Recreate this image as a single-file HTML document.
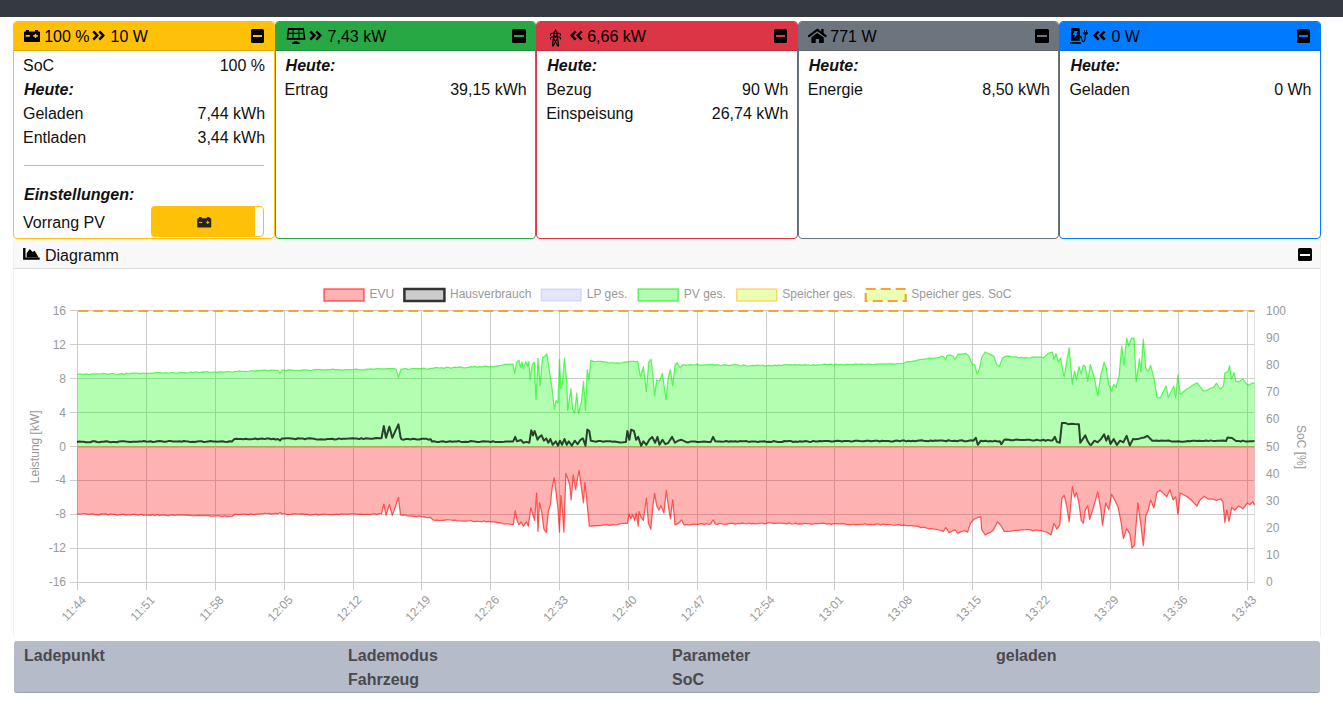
<!DOCTYPE html>
<html><head><meta charset="utf-8"><title>openWB</title>
<style>
*{box-sizing:border-box;margin:0;padding:0}
html,body{width:1343px;height:717px;overflow:hidden;background:#fff}
body{font-family:"Liberation Sans",Arial,sans-serif;font-size:16px;line-height:24px;color:#111;position:relative}
.topbar{position:absolute;left:0;top:0;width:1343px;height:17px;background:#343a40}
.card{position:absolute;top:21px;width:261.6px;height:218px;border:1px solid;border-radius:4px;background:#fff;overflow:hidden}
.hd{position:absolute;left:0;top:0;right:0;height:29px;border-bottom:1px solid rgba(0,0,0,.13)}
.hd .t{position:absolute;top:2.5px;white-space:nowrap;color:#000}
.row{position:absolute;left:9px;right:10px;height:24px;white-space:nowrap}
.row.b{left:10px}
.row .r{position:absolute;right:-1.5px;top:0}
.b{font-weight:bold;font-style:italic}
.ic{position:absolute}
.min{position:absolute;top:7px;right:9.5px;width:13.5px;height:13.7px;background:#000;border-radius:1.6px}
.min:after{content:"";position:absolute;left:2px;top:6px;width:9.5px;height:2.2px;background:var(--c)}
.diag{position:absolute;left:13px;top:239px;width:1308px;height:399px;border:1px solid #f1f1f1;border-bottom:0;border-radius:4px;background:#fff}
.diag .dh{position:absolute;left:0;top:0;right:0;height:29px;background:#f8f8f9;border-bottom:1px solid #dcdcdc;border-radius:3px 3px 0 0}
.chart{position:absolute;left:0;top:0}
.tbl{position:absolute;left:14px;top:640.5px;width:1306px;height:52px;background:#b6bbca;border-radius:3px;border-bottom:1px solid #9aa0b0;font-weight:bold;color:#4a4a4a}
.tbl div{position:absolute;white-space:nowrap}
</style></head><body>
<div class="topbar"></div>

<!-- Speicher -->
<div class="card" style="left:13px;border-color:#ffc107">
 <div class="hd" style="background:#ffc107">
  <svg class="ic" style="left:10px;top:8px" width="16" height="12" viewBox="0 0 16 12"><path d="M2 0h3v1.5h6V0h3v1.5h1.2c.5 0 .8.3.8.8v8.9c0 .5-.3.8-.8.8H.8c-.5 0-.8-.3-.8-.8V2.3c0-.5.3-.8.8-.8H2z" fill="#000"/><rect x="1.6" y="5" width="4.3" height="1.7" fill="#ffc107"/><rect x="9.2" y="5" width="4.6" height="1.7" fill="#ffc107"/><rect x="10.75" y="3.8" width="1.5" height="4.2" fill="#ffc107"/></svg>
  <span class="t" style="left:30.2px">100 %</span>
  <svg class="ic" style="left:77.8px;top:7.9px" width="13" height="11" viewBox="0 0 13 11"><path d="M1.3 1.3L5.3 5.5L1.3 9.7M7.3 1.3L11.3 5.5L7.3 9.7" fill="none" stroke="#000" stroke-width="2.5"/></svg>
  <span class="t" style="left:96.5px">10 W</span>
  <div class="min" style="--c:#ffc107"></div>
 </div>
 <div class="row" style="top:32px">SoC<span class="r">100 %</span></div>
 <div class="row b" style="top:56px">Heute:</div>
 <div class="row" style="top:80px">Geladen<span class="r">7,44 kWh</span></div>
 <div class="row" style="top:104px">Entladen<span class="r">3,44 kWh</span></div>
 <div style="position:absolute;left:10px;right:10px;top:143px;height:1px;background:#ffc107"></div>
 <div class="row b" style="top:161px">Einstellungen:</div>
 <div class="row" style="top:189px">Vorrang PV</div>
 <div style="position:absolute;left:137px;top:184px;width:103px;height:31px;background:#ffc107;border-radius:4px 0 0 4px"></div>
 <div style="position:absolute;left:240px;top:184px;width:10px;height:31px;border:1px solid #ffc107;border-radius:0 4px 4px 0;background:#fff"></div>
 <svg class="ic" style="left:183px;top:195px" width="14.5" height="10.5" viewBox="0 0 16 12"><path d="M2 0h3v1.5h6V0h3v1.5h1.2c.5 0 .8.3.8.8v8.9c0 .5-.3.8-.8.8H.8c-.5 0-.8-.3-.8-.8V2.3c0-.5.3-.8.8-.8H2z" fill="#212529"/><rect x="2" y="5.6" width="3.6" height="1.1" fill="#ffc107"/><rect x="10.2" y="5.6" width="3.6" height="1.1" fill="#ffc107"/><rect x="11.45" y="4.3" width="1.1" height="3.6" fill="#ffc107"/></svg>
</div>

<!-- PV -->
<div class="card" style="left:274.6px;border-color:#28a745">
 <div class="hd" style="background:#28a745">
  <svg class="ic" style="left:10px;top:6px" width="21" height="17" viewBox="0 0 21 17"><path fill="#000" fill-rule="evenodd" d="M1.95 .1H17.9L19.4 11.7H.6ZM3.2 2L2.9 4.8H6.5V2ZM7.5 2V4.8H12.5V2ZM13.5 2V4.8H17L16.65 2ZM2.76 5.9L2.3 9.9H6.5V5.9ZM7.5 5.9V9.9H12.5V5.9ZM13.5 5.9V9.9H17.68L17.16 5.9Z"/><path fill="#000" d="M8.2 13.2H11.2L11.9 14.2H13.2Q13.7 14.2 13.7 14.7V15.4Q13.7 15.9 13.2 15.9H6.6Q6.1 15.9 6.1 15.4V14.7Q6.1 14.2 6.6 14.2H7.5Z"/></svg>
  <svg class="ic" style="left:33.5px;top:7.9px" width="13" height="11" viewBox="0 0 13 11"><path d="M1.3 1.3L5.3 5.5L1.3 9.7M7.3 1.3L11.3 5.5L7.3 9.7" fill="none" stroke="#000" stroke-width="2.5"/></svg>
  <span class="t" style="left:52px">7,43 kW</span>
  <div class="min" style="--c:#28a745"></div>
 </div>
 <div class="row b" style="top:32px">Heute:</div>
 <div class="row" style="top:56px">Ertrag<span class="r">39,15 kWh</span></div>
</div>

<!-- EVU -->
<div class="card" style="left:536.2px;border-color:#dc3545">
 <div class="hd" style="background:#dc3545">
  <svg class="ic" style="left:10.2px;top:5px" width="17" height="21" viewBox="0 0 17 21"><path d="M8.5 1.8L10.1 4.7H6.9Z" fill="#000"/><g fill="none" stroke="#000" stroke-width="1.15"><path d="M3.6 8.8V7.3Q3.6 6.2 4.8 6.2H12.2Q13.4 6.2 13.4 7.3V8.8M3.6 12.6V11.1Q3.6 10 4.8 10H12.2Q13.4 10 13.4 11.1V12.6"/><path d="M7.1 4.6L5.4 19.5M9.9 4.6L11.6 19.5M6.6 11.2L10.9 19.2M10.4 11.2L6.1 19.2M6.7 8L8.5 10L10.3 8"/></g></svg>
  <svg class="ic" style="left:33px;top:7.9px" width="13" height="11" viewBox="0 0 13 11"><path d="M5.7 1.3L1.7 5.5L5.7 9.7M11.7 1.3L7.7 5.5L11.7 9.7" fill="none" stroke="#000" stroke-width="2.5"/></svg>
  <span class="t" style="left:50px">6,66 kW</span>
  <div class="min" style="--c:#dc3545"></div>
 </div>
 <div class="row b" style="top:32px">Heute:</div>
 <div class="row" style="top:56px">Bezug<span class="r">90 Wh</span></div>
 <div class="row" style="top:80px">Einspeisung<span class="r">26,74 kWh</span></div>
</div>

<!-- Haus -->
<div class="card" style="left:797.8px;border-color:#6c757d">
 <div class="hd" style="background:#6c757d">
  <svg class="ic" style="left:6.3px;top:2px" width="24" height="24" viewBox="0 0 24 24"><path d="M3.9 12.1L12.3 5.8L20.7 12.1" fill="none" stroke="#000" stroke-width="2.1" stroke-linecap="round" stroke-linejoin="miter"/><path d="M16.3 5H18.6V9.6H16.3Z" fill="#000"/><path d="M12.3 9.1L6.3 13.4V18.9H10.7V15H14.1V18.9H18.8V13.4Z" fill="#000"/></svg>
  <span class="t" style="left:31.5px">771 W</span>
  <div class="min" style="--c:#6c757d"></div>
 </div>
 <div class="row b" style="top:32px">Heute:</div>
 <div class="row" style="top:56px">Energie<span class="r">8,50 kWh</span></div>
</div>

<!-- LP -->
<div class="card" style="left:1059.4px;border-color:#007bff">
 <div class="hd" style="background:#007bff">
  <svg class="ic" style="left:5.8px;top:2px" width="24" height="24" viewBox="0 0 24 24"><path d="M5 5.6Q5 4.1 6.5 4.1H12.3Q13.8 4.1 13.8 5.6V16.8H5Z" fill="#000"/><path d="M8.4 7H11.8L10.4 10H11.7L7.8 14L8.9 11H6.8Z" fill="#007bff"/><rect x="3.9" y="18.2" width="10.9" height="1.6" fill="#000"/><path d="M13.8 12.3C15.3 12.3 15.6 13.5 15.8 15.4C16 17.4 17.2 17.9 18 17.3C18.9 16.6 19.3 15 19.3 10.5" fill="none" stroke="#000" stroke-width="1.15"/><path d="M17 8.2H21.8V9.2Q21.8 10.9 19.4 10.9T17 9.2Z" fill="#000"/><rect x="18" y="6" width="0.85" height="2.4" fill="#000"/><rect x="20.1" y="6" width="0.85" height="2.4" fill="#000"/></svg>
  <svg class="ic" style="left:33px;top:7.9px" width="13" height="11" viewBox="0 0 13 11"><path d="M5.7 1.3L1.7 5.5L5.7 9.7M11.7 1.3L7.7 5.5L11.7 9.7" fill="none" stroke="#000" stroke-width="2.5"/></svg>
  <span class="t" style="left:51px">0 W</span>
  <div class="min" style="--c:#007bff"></div>
 </div>
 <div class="row b" style="top:32px">Heute:</div>
 <div class="row" style="top:56px">Geladen<span class="r">0 Wh</span></div>
</div>

<!-- Diagramm -->
<div class="diag">
 <div class="dh">
  <svg class="ic" style="left:9px;top:8px" width="17" height="13" viewBox="0 0 17 13"><path d="M.1 0H2.5V9.4H16.7V11.8H.1Z" fill="#000"/><path d="M3.7 9.4V5.2L6.8 1.1L9.6 3.9L11.6 2.7L15.6 9.4Z" fill="#000"/></svg>
  <span style="position:absolute;left:31px;top:3.5px">Diagramm</span>
  <div class="min" style="--c:#fff;top:7.5px;right:8.5px"></div>
 </div>
</div>
<svg class="chart" width="1343" height="717" viewBox="0 0 1343 717">
<path d="M70 310.5H1254.4 M70 344.5H1254.4 M70 378.5H1254.4 M70 412.5H1254.4 M70 446.5H1254.4 M70 480.5H1254.4 M70 514.5H1254.4 M70 548.5H1254.4 M70 582.5H1254.4 M77.5 311V590.5 M146.5 311V590.5 M215.5 311V590.5 M284.5 311V590.5 M353.5 311V590.5 M421.5 311V590.5 M490.5 311V590.5 M559.5 311V590.5 M628.5 311V590.5 M697.5 311V590.5 M766.5 311V590.5 M834.5 311V590.5 M903.5 311V590.5 M972.5 311V590.5 M1041.5 311V590.5 M1110.5 311V590.5 M1178.5 311V590.5 M1247.5 311V590.5" stroke="#cdcdcd" stroke-width="1" fill="none"/>
<path d="M1254.5 311V583" stroke="#e2e2e2" stroke-width="1"/>
<path d="M77,446.5 L77,374.5 79.2,374.2 81.5,374 83.7,374.6 86,373.8 88.2,374.3 90.5,374.1 92.7,373.7 95,374.2 97.2,373.6 99.5,374 101.7,373.6 104,373.5 106.2,373.9 108.5,374.4 110.7,373.5 113,373.5 115.2,374 117.5,374.3 119.7,373.9 122,373.6 124.2,374.3 126.5,373.1 128.7,374 131,373.3 133.2,373.1 135.5,373 137.7,373.2 140,373.8 142.2,373 144.5,373.4 146.7,373.3 148.9,373.4 151.1,373.1 153.4,373.2 155.6,372.6 157.8,372.5 160,372.7 162.2,373.2 164.5,372.9 166.7,372.7 168.9,373 171.1,372.7 173.3,372.5 175.6,373.1 177.8,372.9 180,372.3 182.2,372.7 184.4,372.6 186.6,372.9 188.9,372.7 191.1,372.1 193.3,372.9 195.5,371.8 197.7,372.2 200,372.5 202.2,371.8 204.4,372.1 206.6,371.5 208.8,372.2 211.1,372.3 213.3,372 215.5,371.9 217.7,372.3 219.9,371.6 222.1,372 224.3,371.8 226.5,371.7 228.7,371.5 230.9,371.9 233.1,372 235.3,371.4 237.5,371.5 239.7,370.8 241.9,371.5 244.1,371.4 246.4,371.7 248.6,371.5 250.8,370.8 253,370.8 255.2,371.1 257.4,370.3 259.6,370.7 261.8,370.3 264,370.2 266.2,370.1 268.4,370.9 270.6,370.1 272.8,370.2 275,370.4 278,370.3 280,373.3 282,370.2 284.3,370.1 286.6,370.6 288.9,369.6 291.1,370.1 293.4,370.2 295.7,370.5 298,370.4 300.3,370.5 302.6,369.8 304.9,369.9 307.1,369.8 309.4,370.4 311.7,370.5 314,369.5 316.3,369.5 318.6,369.6 320.9,369.6 323.1,369.8 325.4,369.9 327.7,369.5 330,369.8 332.4,369.2 334.7,369.6 337.1,369.6 339.5,369.8 341.9,370.2 344.2,369.8 346.6,369.6 349,369.7 351.3,369.7 353.7,369.5 355.9,368.9 358.2,369.9 360.4,369.8 362.6,369.8 364.8,369.7 367.1,369.2 369.3,369.2 371.5,368.8 373.7,369.4 376,368.7 378.2,368.7 380.4,368.8 382.6,368.8 384.9,368.9 387.1,368.6 389.3,368.5 391.5,368.6 393.8,368.5 396,369 398.5,377.4 401,369 403.3,368.8 405.6,368.4 407.9,369.3 410.2,369 412.4,368.4 414.7,368.5 417,368.6 419.3,368.6 421.6,368.7 423.8,368.2 426.1,369 428.3,369.1 430.5,368.3 432.7,368.3 435,367.7 437.2,367.7 439.4,367.9 441.7,367.7 443.9,368.3 446.1,367.4 448.3,367.2 450.6,368.2 452.8,367.7 455,367.1 457.3,367.5 459.5,366.8 461.7,367.3 464,367.8 466.2,367.6 468.4,367.3 470.6,366.7 472.9,366.8 475.1,366.4 477.3,367.1 479.6,366.7 481.8,366.9 484,366.3 486.2,366.1 488.5,366.8 490.7,366.3 493.1,366.6 495.5,366.2 497.9,365.8 500.2,365.5 502.6,365.2 505,364.3 507.4,364.3 510.2,364.2 513,364 514.7,373.3 516.5,362.5 519,360.2 520.5,367.5 522,362 523.4,368.7 525.8,361.6 527.5,366 528.7,361.6 530.2,379.8 532.2,365 534.3,362.2 536,399.7 538,358.4 540.1,385.7 542.5,357.8 544.5,356.4 546.9,354 549.2,369.5 552.1,388.6 554.2,409 556.2,400.3 558,403 559.5,359.3 560.9,388.6 562.4,383 564.4,358.4 566.8,382.7 567.7,410.5 570.9,388.6 572.6,409 574.7,412.6 576.7,393 578.5,413.5 581.4,401.8 583.5,381.3 585.5,410.5 587.3,369.5 588.8,380 590.8,360.2 593.7,361.6 596.1,361.5 598.4,361.3 600.8,361.4 603.1,361.8 605.5,361.9 607.8,362.6 610.2,363 612.5,362.5 614.9,363.2 617.2,362.8 619.5,363.2 621.8,363 624,362.1 626.3,361.8 628.6,361.6 630.9,361.4 633.1,361.3 635.4,361.6 637.7,361.3 640.5,376.9 643.4,366.6 646.4,391.5 648.7,362.2 651,359.3 652.8,374 654.6,395.9 656.6,380 659.5,381 662.5,373.3 664,385 666,399.4 668.3,377 670.4,369.5 672.7,385.7 675,365 677.1,362.8 680,368 683,364.6 685.3,365.1 687.5,365 689.8,364.6 692.1,364.8 694.4,365 696.6,364.1 698.9,364.8 701.2,365.1 703.5,364.9 705.7,364.9 708,364.6 710.3,364.6 712.5,364.3 714.8,365.1 717,364.6 719.3,365.2 721.6,365.5 723.8,364.8 726.1,364.9 728.3,365.6 730.6,365.3 732.9,364.7 735.1,364.7 737.4,364.8 739.7,365.8 741.9,365.7 744.2,364.9 746.4,365.8 748.7,366 751,365.7 753.2,365.4 755.5,365.7 757.7,365.2 760,365.7 762.4,365 764.8,366.1 767.2,365.7 769.6,365.4 772.1,365.8 774.5,365.2 776.9,365.6 779.3,365.1 781.6,365.5 783.8,364.7 786.1,364.7 788.3,364.8 790.6,364.7 792.8,365.1 795.1,364.7 797.3,364.8 799.6,364.5 801.8,365.4 804.1,364.7 806.3,364.8 808.6,365 810.9,365.3 813.1,364.7 815.4,365.3 817.6,364.8 819.9,364.8 822.1,364.8 824.4,364.1 826.6,364.6 828.9,364.3 831.1,364.1 833.4,365 835.6,364.2 837.9,364.6 840.2,364.5 842.4,364.8 844.7,364.6 846.9,364.3 849.2,364.4 851.4,364.5 853.7,364.7 855.9,363.9 858.2,364.4 860.4,364 862.7,364 864.9,364.5 867.2,364.2 869.5,364.2 871.7,364.4 874,364.5 876.2,363.9 878.5,364.1 880.7,363.9 883,363.9 885.2,364.1 887.5,363.8 889.7,363.8 892,363.7 894.2,364.3 896.5,363.7 899,363.5 901.5,363.3 904,363 906.5,361.8 909,361.7 911.5,361.7 914,360.8 916.2,360.9 918.4,359.8 920.6,359.4 922.8,359.5 925,358.8 927.2,358.7 929.4,358.2 931.6,358.4 933.9,358.2 936.3,357.9 938.6,357.7 941,356.4 943.3,356.4 945.7,359.9 947,355.5 949.2,354.9 953,356 955,359.3 958,354 960.7,354.1 963.4,353.8 966.1,353.4 969,356.4 972,363.7 974.9,365.1 977,373.9 979.3,369.5 981.6,357.8 985.1,352 989.5,354 993.9,356.4 996.9,365.1 999.2,366.6 1002.7,357.8 1005.7,356.4 1008.6,355.8 1011,356.6 1013.5,357 1015.9,356.5 1018.3,357.7 1020.8,357.3 1023.2,357.8 1025.7,357.7 1028.2,358.2 1030.7,357.9 1033.3,356.9 1035.8,357.1 1038.3,357.1 1040.8,357 1043.7,357.8 1048.1,353.4 1050.3,352.5 1052.5,352 1054,359.3 1056,353.4 1058.4,362.2 1060.7,357.8 1062.8,371 1064.2,376.9 1066.6,362.2 1069.2,347.6 1070.7,365.1 1072.4,384.2 1074.5,371 1076.5,379.8 1078.9,366.6 1081.2,373.9 1083.3,365.1 1085.3,366.6 1087.7,381.3 1090.3,364.6 1094.5,378 1097.7,395.8 1100.9,375 1104.1,362.1 1106.3,368.5 1108.9,384.5 1111.5,391 1113.7,384.5 1116,387.7 1119.2,374.9 1121.7,346 1124,365.3 1126.6,338 1128.8,346 1131.4,338 1134,338 1136.2,381.3 1139.4,358.9 1141,371.7 1143.3,339 1145.8,368.5 1148.4,371.7 1150.6,365.3 1153.9,378.1 1157.1,397.4 1160.3,398 1163.5,391 1166.1,386.1 1168.3,397.4 1171.5,391 1173.8,386.1 1175.7,397.4 1177.9,374.9 1180.2,394.2 1184.4,391 1186.8,389 1189.2,387.7 1191.6,385.9 1194,384.5 1197.2,382.9 1200.4,387.1 1203.6,391 1206,390.5 1208.5,389.4 1210.9,388 1213.3,387.7 1216.5,383.2 1220,389 1223.5,386 1224.9,372.9 1227.7,372 1229.6,365.7 1231.3,379 1234.1,372.9 1236,381.3 1238.8,381.8 1243,379 1245.8,383.2 1248.6,385.2 1251.9,383.2 1254.5,383.2 L1254.5,446.5 Z" fill="rgba(0,255,0,0.3)"/>
<path d="M77,446.5 L77,514 79.2,514.1 81.5,514 83.7,513.5 85.9,513.9 88.1,514.3 90.4,514.2 92.6,513.7 94.8,514.8 97,514.6 99.3,514.9 101.5,513.9 103.7,514.1 105.9,513.9 108.2,514.8 110.4,514.2 112.6,514.1 114.8,514.5 117.1,515.1 119.3,515 121.5,514.4 123.7,514.3 126,515.2 128.2,514.8 130.4,515 132.6,514.3 134.9,514.3 137.1,515.1 139.3,514.8 141.5,514.4 143.8,515.5 146,515 148.2,515.2 150.5,515.4 152.7,514.6 154.9,515.6 157.1,514.6 159.4,515.6 161.6,515.2 163.8,515.1 166,515.4 168.3,515.8 170.5,515.1 172.7,514.9 174.9,515.5 177.2,515.1 179.4,515 181.6,515.1 183.8,515 186.1,515.2 188.3,515.4 190.5,515.4 192.7,516 195,515.5 197.2,515.7 199.4,515.4 201.6,515.6 203.9,515.3 206.1,515.6 208.3,515.3 210.5,516.2 212.8,516 215,516 217.4,515.7 219.9,516.1 222.3,516.7 224.7,515.8 227.1,516.7 229.6,516.3 232,516.5 235,514.3 237.3,514.3 239.5,514.6 241.8,514.1 244.1,514.2 246.3,514.4 248.6,514.7 250.8,513.9 253.1,514.5 255.4,514.3 257.6,514.2 259.9,513.9 262.2,513.8 264.4,513.4 266.7,513.5 268.9,513.4 271.2,514.2 273.5,513.6 275.7,513.4 278,513.8 280,512.5 282,514 284.3,513.5 286.6,514.5 288.9,514.5 291.1,514.3 293.4,513.9 295.7,513.9 298,514 300.3,514.2 302.6,513.9 304.9,514.3 307.1,514.1 309.4,515 311.7,515 314,514.5 316.3,514.2 318.6,515.1 320.9,514.3 323.1,514.4 325.4,514 327.7,514.5 330,514.7 332.2,514.6 334.5,514.6 336.7,514.2 339,514.6 341.2,513.9 343.4,514.2 345.7,514 347.9,514.3 350.2,513.8 352.4,513.8 354.6,514.1 356.9,514 359.1,514.4 361.3,514.2 363.6,514.5 365.8,514.3 368.1,514.4 370.3,514.5 372.5,513.9 374.8,513.8 377,514.6 379.3,513.5 381.5,513.9 383.8,504.2 386,515.4 389.4,504.5 392.3,515.4 395.4,506.7 398.5,497.5 400.5,515 402.8,515.4 405.1,514.8 407.5,516 409.8,516.2 412.1,516.1 414.4,516.4 416.8,516.7 419.1,516 421.4,516.7 423.7,516.9 426.1,517.4 428.4,517.6 430.7,517.4 432.7,519.8 434.9,520.3 437.2,520.1 439.4,520.5 441.6,520.3 443.9,520.4 446.1,519.9 448.3,519.8 450.5,520 452.8,520.3 455,520.1 457.2,521 459.5,520.8 461.7,521 463.9,521 466.2,521.2 468.4,521 470.6,520.5 472.9,521.5 475.1,521.6 477.3,521.3 479.5,521.5 481.8,521.7 484,521 486.2,521.9 488.5,521.4 490.7,521.8 493,521.6 495.2,522.1 497.5,522.9 499.7,522.6 502,523.5 504.3,524.1 506.5,523.8 508.8,524 511,524.4 513.3,524.7 515.3,511 517,520.4 519,524.8 521,521.9 523.4,526.2 526.4,521.9 528.4,526.2 530.8,507.8 532.8,514.5 534.6,520.4 536.6,493.2 538,531.5 539.5,502.8 541.6,511.6 543.9,529.2 546.3,532.7 548.3,511.6 550.4,504.3 552.1,488.2 554.2,477.9 556.2,494 558,508.7 559.5,532.1 560.9,495.5 562.4,511.6 563.9,532.1 565.9,473.5 568,479.4 569.7,485.2 571.2,499.9 573.2,475 575.6,489.6 577.6,477.9 579.1,470.6 581.4,488.2 583.5,502.8 584.9,482.3 587.3,505.7 589.3,526.2 591.5,526.2 593.7,525.7 596.1,525.9 598.4,525.7 600.8,525.6 603.1,524.8 605.5,524.8 607.8,524.9 610.2,525.4 612.5,524.7 614.9,525 617.2,524.8 619.8,523.8 622.3,523.5 624.9,523.4 627.4,523.3 628.9,514 630.9,518.9 632.4,514.5 634.7,520.4 636.2,513.1 638.2,526.2 639,511.6 641.1,517.5 643.4,520.4 646.4,498.4 648.4,523.3 650.8,529.2 652.8,507.2 654.6,493.4 656.6,505.7 659,510.1 661,505.7 663.9,513.1 666.3,490.5 668.3,505.7 670.4,518.9 672.7,499.9 675,524.8 678.6,523.3 681.5,519.8 683.9,524.8 686.1,524.9 688.4,524.9 690.6,524.8 692.9,524.2 695.1,524.4 697.3,524.3 699.6,524.2 701.8,523.7 704.1,524.6 706.3,523.7 708.6,524.5 710.8,523.9 713.1,519.8 715.2,523.9 717.4,524.4 719.7,523.3 721.9,523.8 724.2,524.2 726.4,524.3 728.6,523.7 730.9,523.4 733.1,523.3 735.4,524.2 737.6,523.3 739.8,523.7 742.1,523.1 744.3,523.5 746.6,524 748.8,523 751,523.8 753.3,523.4 755.5,523.8 757.8,523.6 760,523.3 762.2,523 764.5,523.8 766.7,523.3 768.9,522.8 771.1,522.8 773.4,523.4 775.6,523.4 777.8,523.2 780,523 782.3,523.3 784.5,523.3 786.7,523.9 788.9,522.9 791.2,523.8 793.4,524 795.6,523.1 797.8,524.1 800.1,523.9 802.3,524.1 804.5,523.4 806.7,523.5 809,523.5 811.2,524.3 813.4,523.8 815.6,523.6 817.9,523.7 820.1,523.5 822.3,523.2 824.5,523.3 826.8,524.2 829,523.6 831.2,524.4 833.4,523.6 835.7,523.6 837.9,523.9 840.2,523.9 842.4,523.6 844.7,523.9 846.9,524.6 849.2,524.5 851.4,524.5 853.7,524.3 855.9,524.7 858.2,524.7 860.4,524.3 862.7,524.5 864.9,523.8 867.2,524.6 869.5,524.3 871.7,524.7 874,524.6 876.2,524.2 878.5,524 880.7,525.1 883,524.1 885.2,524.6 887.5,524.5 889.7,524.5 892,525 894.2,525.3 896.5,524.8 899,524.7 901.5,525.4 904,525.2 906.5,525.7 909,525.7 911.5,525.6 914,526.2 916.2,526.1 918.4,526.4 920.6,527.6 922.8,527.4 925,527.4 927.2,528.5 929.4,528.9 931.6,528.6 933.9,529.1 936.3,529.3 938.6,530 941,530.4 943.3,531.5 945.7,527.7 949.2,532.7 952.1,531.1 955,529.8 958,533.6 960.2,532.1 962.4,531.3 964.6,530.6 967.6,532.1 970.5,523.3 973.4,519.8 977.8,517.5 980.8,516.9 981.6,529.2 985.1,535 988,533.3 991,532.1 993.9,529.2 997.5,521.9 1001.3,526.2 1004.2,531.5 1006.6,531.4 1009,531.5 1011.3,531.2 1013.7,530.5 1016.1,530.3 1018.5,530.3 1020.8,529.9 1023.2,529.8 1025.7,529.7 1028.2,529.5 1030.7,529.9 1033.3,530.8 1035.8,529.9 1038.3,530.5 1040.8,530.6 1043.8,531.5 1046.7,532.1 1051,535 1054,523.3 1056.9,529.2 1059.8,524.8 1061.9,498.4 1064.2,495.5 1066.6,505.7 1069.2,521.9 1072.4,486.7 1074.5,497 1076.5,492.6 1078.9,502.8 1081.2,520.4 1083.3,523.3 1085.3,510.1 1087.7,505.7 1089.6,519.3 1092.8,509.7 1095.2,501.3 1097.7,492 1100.9,509.7 1102.5,525.7 1105.7,503.2 1108.9,509.7 1111.5,494.3 1114.7,500 1117.9,506.5 1121.1,522.5 1123.4,538.5 1126.6,528.9 1129.8,533.7 1132,548.2 1134.6,545 1137.8,503.2 1141,525.7 1143.3,545.6 1145.8,516.1 1148.4,509.7 1150.6,500 1153.9,508 1157.1,492 1160.3,490.4 1163.5,493.6 1166.7,496.8 1169.9,489.8 1173.1,500 1175.7,496.8 1177.9,514.5 1180.2,493 1184.4,495.2 1186.8,496.5 1189.2,498.4 1191.7,500.5 1194.2,503.2 1197,506 1199.8,500.4 1204,496.2 1208.1,499 1212.3,499 1216.5,500.4 1220.7,499 1222.9,501.8 1224.9,522.7 1226.8,510.2 1229,521.3 1231.8,507.4 1234.6,510.2 1238.8,506 1243,508.8 1247.2,503.2 1250,504.6 1252.8,501.8 1254.5,505.1 L1254.5,446.5 Z" fill="rgba(255,0,0,0.3)"/>
<polyline points="77,374.5 79.2,374.2 81.5,374 83.7,374.6 86,373.8 88.2,374.3 90.5,374.1 92.7,373.7 95,374.2 97.2,373.6 99.5,374 101.7,373.6 104,373.5 106.2,373.9 108.5,374.4 110.7,373.5 113,373.5 115.2,374 117.5,374.3 119.7,373.9 122,373.6 124.2,374.3 126.5,373.1 128.7,374 131,373.3 133.2,373.1 135.5,373 137.7,373.2 140,373.8 142.2,373 144.5,373.4 146.7,373.3 148.9,373.4 151.1,373.1 153.4,373.2 155.6,372.6 157.8,372.5 160,372.7 162.2,373.2 164.5,372.9 166.7,372.7 168.9,373 171.1,372.7 173.3,372.5 175.6,373.1 177.8,372.9 180,372.3 182.2,372.7 184.4,372.6 186.6,372.9 188.9,372.7 191.1,372.1 193.3,372.9 195.5,371.8 197.7,372.2 200,372.5 202.2,371.8 204.4,372.1 206.6,371.5 208.8,372.2 211.1,372.3 213.3,372 215.5,371.9 217.7,372.3 219.9,371.6 222.1,372 224.3,371.8 226.5,371.7 228.7,371.5 230.9,371.9 233.1,372 235.3,371.4 237.5,371.5 239.7,370.8 241.9,371.5 244.1,371.4 246.4,371.7 248.6,371.5 250.8,370.8 253,370.8 255.2,371.1 257.4,370.3 259.6,370.7 261.8,370.3 264,370.2 266.2,370.1 268.4,370.9 270.6,370.1 272.8,370.2 275,370.4 278,370.3 280,373.3 282,370.2 284.3,370.1 286.6,370.6 288.9,369.6 291.1,370.1 293.4,370.2 295.7,370.5 298,370.4 300.3,370.5 302.6,369.8 304.9,369.9 307.1,369.8 309.4,370.4 311.7,370.5 314,369.5 316.3,369.5 318.6,369.6 320.9,369.6 323.1,369.8 325.4,369.9 327.7,369.5 330,369.8 332.4,369.2 334.7,369.6 337.1,369.6 339.5,369.8 341.9,370.2 344.2,369.8 346.6,369.6 349,369.7 351.3,369.7 353.7,369.5 355.9,368.9 358.2,369.9 360.4,369.8 362.6,369.8 364.8,369.7 367.1,369.2 369.3,369.2 371.5,368.8 373.7,369.4 376,368.7 378.2,368.7 380.4,368.8 382.6,368.8 384.9,368.9 387.1,368.6 389.3,368.5 391.5,368.6 393.8,368.5 396,369 398.5,377.4 401,369 403.3,368.8 405.6,368.4 407.9,369.3 410.2,369 412.4,368.4 414.7,368.5 417,368.6 419.3,368.6 421.6,368.7 423.8,368.2 426.1,369 428.3,369.1 430.5,368.3 432.7,368.3 435,367.7 437.2,367.7 439.4,367.9 441.7,367.7 443.9,368.3 446.1,367.4 448.3,367.2 450.6,368.2 452.8,367.7 455,367.1 457.3,367.5 459.5,366.8 461.7,367.3 464,367.8 466.2,367.6 468.4,367.3 470.6,366.7 472.9,366.8 475.1,366.4 477.3,367.1 479.6,366.7 481.8,366.9 484,366.3 486.2,366.1 488.5,366.8 490.7,366.3 493.1,366.6 495.5,366.2 497.9,365.8 500.2,365.5 502.6,365.2 505,364.3 507.4,364.3 510.2,364.2 513,364 514.7,373.3 516.5,362.5 519,360.2 520.5,367.5 522,362 523.4,368.7 525.8,361.6 527.5,366 528.7,361.6 530.2,379.8 532.2,365 534.3,362.2 536,399.7 538,358.4 540.1,385.7 542.5,357.8 544.5,356.4 546.9,354 549.2,369.5 552.1,388.6 554.2,409 556.2,400.3 558,403 559.5,359.3 560.9,388.6 562.4,383 564.4,358.4 566.8,382.7 567.7,410.5 570.9,388.6 572.6,409 574.7,412.6 576.7,393 578.5,413.5 581.4,401.8 583.5,381.3 585.5,410.5 587.3,369.5 588.8,380 590.8,360.2 593.7,361.6 596.1,361.5 598.4,361.3 600.8,361.4 603.1,361.8 605.5,361.9 607.8,362.6 610.2,363 612.5,362.5 614.9,363.2 617.2,362.8 619.5,363.2 621.8,363 624,362.1 626.3,361.8 628.6,361.6 630.9,361.4 633.1,361.3 635.4,361.6 637.7,361.3 640.5,376.9 643.4,366.6 646.4,391.5 648.7,362.2 651,359.3 652.8,374 654.6,395.9 656.6,380 659.5,381 662.5,373.3 664,385 666,399.4 668.3,377 670.4,369.5 672.7,385.7 675,365 677.1,362.8 680,368 683,364.6 685.3,365.1 687.5,365 689.8,364.6 692.1,364.8 694.4,365 696.6,364.1 698.9,364.8 701.2,365.1 703.5,364.9 705.7,364.9 708,364.6 710.3,364.6 712.5,364.3 714.8,365.1 717,364.6 719.3,365.2 721.6,365.5 723.8,364.8 726.1,364.9 728.3,365.6 730.6,365.3 732.9,364.7 735.1,364.7 737.4,364.8 739.7,365.8 741.9,365.7 744.2,364.9 746.4,365.8 748.7,366 751,365.7 753.2,365.4 755.5,365.7 757.7,365.2 760,365.7 762.4,365 764.8,366.1 767.2,365.7 769.6,365.4 772.1,365.8 774.5,365.2 776.9,365.6 779.3,365.1 781.6,365.5 783.8,364.7 786.1,364.7 788.3,364.8 790.6,364.7 792.8,365.1 795.1,364.7 797.3,364.8 799.6,364.5 801.8,365.4 804.1,364.7 806.3,364.8 808.6,365 810.9,365.3 813.1,364.7 815.4,365.3 817.6,364.8 819.9,364.8 822.1,364.8 824.4,364.1 826.6,364.6 828.9,364.3 831.1,364.1 833.4,365 835.6,364.2 837.9,364.6 840.2,364.5 842.4,364.8 844.7,364.6 846.9,364.3 849.2,364.4 851.4,364.5 853.7,364.7 855.9,363.9 858.2,364.4 860.4,364 862.7,364 864.9,364.5 867.2,364.2 869.5,364.2 871.7,364.4 874,364.5 876.2,363.9 878.5,364.1 880.7,363.9 883,363.9 885.2,364.1 887.5,363.8 889.7,363.8 892,363.7 894.2,364.3 896.5,363.7 899,363.5 901.5,363.3 904,363 906.5,361.8 909,361.7 911.5,361.7 914,360.8 916.2,360.9 918.4,359.8 920.6,359.4 922.8,359.5 925,358.8 927.2,358.7 929.4,358.2 931.6,358.4 933.9,358.2 936.3,357.9 938.6,357.7 941,356.4 943.3,356.4 945.7,359.9 947,355.5 949.2,354.9 953,356 955,359.3 958,354 960.7,354.1 963.4,353.8 966.1,353.4 969,356.4 972,363.7 974.9,365.1 977,373.9 979.3,369.5 981.6,357.8 985.1,352 989.5,354 993.9,356.4 996.9,365.1 999.2,366.6 1002.7,357.8 1005.7,356.4 1008.6,355.8 1011,356.6 1013.5,357 1015.9,356.5 1018.3,357.7 1020.8,357.3 1023.2,357.8 1025.7,357.7 1028.2,358.2 1030.7,357.9 1033.3,356.9 1035.8,357.1 1038.3,357.1 1040.8,357 1043.7,357.8 1048.1,353.4 1050.3,352.5 1052.5,352 1054,359.3 1056,353.4 1058.4,362.2 1060.7,357.8 1062.8,371 1064.2,376.9 1066.6,362.2 1069.2,347.6 1070.7,365.1 1072.4,384.2 1074.5,371 1076.5,379.8 1078.9,366.6 1081.2,373.9 1083.3,365.1 1085.3,366.6 1087.7,381.3 1090.3,364.6 1094.5,378 1097.7,395.8 1100.9,375 1104.1,362.1 1106.3,368.5 1108.9,384.5 1111.5,391 1113.7,384.5 1116,387.7 1119.2,374.9 1121.7,346 1124,365.3 1126.6,338 1128.8,346 1131.4,338 1134,338 1136.2,381.3 1139.4,358.9 1141,371.7 1143.3,339 1145.8,368.5 1148.4,371.7 1150.6,365.3 1153.9,378.1 1157.1,397.4 1160.3,398 1163.5,391 1166.1,386.1 1168.3,397.4 1171.5,391 1173.8,386.1 1175.7,397.4 1177.9,374.9 1180.2,394.2 1184.4,391 1186.8,389 1189.2,387.7 1191.6,385.9 1194,384.5 1197.2,382.9 1200.4,387.1 1203.6,391 1206,390.5 1208.5,389.4 1210.9,388 1213.3,387.7 1216.5,383.2 1220,389 1223.5,386 1224.9,372.9 1227.7,372 1229.6,365.7 1231.3,379 1234.1,372.9 1236,381.3 1238.8,381.8 1243,379 1245.8,383.2 1248.6,385.2 1251.9,383.2 1254.5,383.2" fill="none" stroke="rgba(0,240,0,0.6)" stroke-width="1.25" stroke-linejoin="round"/>
<polyline points="77,514 79.2,514.1 81.5,514 83.7,513.5 85.9,513.9 88.1,514.3 90.4,514.2 92.6,513.7 94.8,514.8 97,514.6 99.3,514.9 101.5,513.9 103.7,514.1 105.9,513.9 108.2,514.8 110.4,514.2 112.6,514.1 114.8,514.5 117.1,515.1 119.3,515 121.5,514.4 123.7,514.3 126,515.2 128.2,514.8 130.4,515 132.6,514.3 134.9,514.3 137.1,515.1 139.3,514.8 141.5,514.4 143.8,515.5 146,515 148.2,515.2 150.5,515.4 152.7,514.6 154.9,515.6 157.1,514.6 159.4,515.6 161.6,515.2 163.8,515.1 166,515.4 168.3,515.8 170.5,515.1 172.7,514.9 174.9,515.5 177.2,515.1 179.4,515 181.6,515.1 183.8,515 186.1,515.2 188.3,515.4 190.5,515.4 192.7,516 195,515.5 197.2,515.7 199.4,515.4 201.6,515.6 203.9,515.3 206.1,515.6 208.3,515.3 210.5,516.2 212.8,516 215,516 217.4,515.7 219.9,516.1 222.3,516.7 224.7,515.8 227.1,516.7 229.6,516.3 232,516.5 235,514.3 237.3,514.3 239.5,514.6 241.8,514.1 244.1,514.2 246.3,514.4 248.6,514.7 250.8,513.9 253.1,514.5 255.4,514.3 257.6,514.2 259.9,513.9 262.2,513.8 264.4,513.4 266.7,513.5 268.9,513.4 271.2,514.2 273.5,513.6 275.7,513.4 278,513.8 280,512.5 282,514 284.3,513.5 286.6,514.5 288.9,514.5 291.1,514.3 293.4,513.9 295.7,513.9 298,514 300.3,514.2 302.6,513.9 304.9,514.3 307.1,514.1 309.4,515 311.7,515 314,514.5 316.3,514.2 318.6,515.1 320.9,514.3 323.1,514.4 325.4,514 327.7,514.5 330,514.7 332.2,514.6 334.5,514.6 336.7,514.2 339,514.6 341.2,513.9 343.4,514.2 345.7,514 347.9,514.3 350.2,513.8 352.4,513.8 354.6,514.1 356.9,514 359.1,514.4 361.3,514.2 363.6,514.5 365.8,514.3 368.1,514.4 370.3,514.5 372.5,513.9 374.8,513.8 377,514.6 379.3,513.5 381.5,513.9 383.8,504.2 386,515.4 389.4,504.5 392.3,515.4 395.4,506.7 398.5,497.5 400.5,515 402.8,515.4 405.1,514.8 407.5,516 409.8,516.2 412.1,516.1 414.4,516.4 416.8,516.7 419.1,516 421.4,516.7 423.7,516.9 426.1,517.4 428.4,517.6 430.7,517.4 432.7,519.8 434.9,520.3 437.2,520.1 439.4,520.5 441.6,520.3 443.9,520.4 446.1,519.9 448.3,519.8 450.5,520 452.8,520.3 455,520.1 457.2,521 459.5,520.8 461.7,521 463.9,521 466.2,521.2 468.4,521 470.6,520.5 472.9,521.5 475.1,521.6 477.3,521.3 479.5,521.5 481.8,521.7 484,521 486.2,521.9 488.5,521.4 490.7,521.8 493,521.6 495.2,522.1 497.5,522.9 499.7,522.6 502,523.5 504.3,524.1 506.5,523.8 508.8,524 511,524.4 513.3,524.7 515.3,511 517,520.4 519,524.8 521,521.9 523.4,526.2 526.4,521.9 528.4,526.2 530.8,507.8 532.8,514.5 534.6,520.4 536.6,493.2 538,531.5 539.5,502.8 541.6,511.6 543.9,529.2 546.3,532.7 548.3,511.6 550.4,504.3 552.1,488.2 554.2,477.9 556.2,494 558,508.7 559.5,532.1 560.9,495.5 562.4,511.6 563.9,532.1 565.9,473.5 568,479.4 569.7,485.2 571.2,499.9 573.2,475 575.6,489.6 577.6,477.9 579.1,470.6 581.4,488.2 583.5,502.8 584.9,482.3 587.3,505.7 589.3,526.2 591.5,526.2 593.7,525.7 596.1,525.9 598.4,525.7 600.8,525.6 603.1,524.8 605.5,524.8 607.8,524.9 610.2,525.4 612.5,524.7 614.9,525 617.2,524.8 619.8,523.8 622.3,523.5 624.9,523.4 627.4,523.3 628.9,514 630.9,518.9 632.4,514.5 634.7,520.4 636.2,513.1 638.2,526.2 639,511.6 641.1,517.5 643.4,520.4 646.4,498.4 648.4,523.3 650.8,529.2 652.8,507.2 654.6,493.4 656.6,505.7 659,510.1 661,505.7 663.9,513.1 666.3,490.5 668.3,505.7 670.4,518.9 672.7,499.9 675,524.8 678.6,523.3 681.5,519.8 683.9,524.8 686.1,524.9 688.4,524.9 690.6,524.8 692.9,524.2 695.1,524.4 697.3,524.3 699.6,524.2 701.8,523.7 704.1,524.6 706.3,523.7 708.6,524.5 710.8,523.9 713.1,519.8 715.2,523.9 717.4,524.4 719.7,523.3 721.9,523.8 724.2,524.2 726.4,524.3 728.6,523.7 730.9,523.4 733.1,523.3 735.4,524.2 737.6,523.3 739.8,523.7 742.1,523.1 744.3,523.5 746.6,524 748.8,523 751,523.8 753.3,523.4 755.5,523.8 757.8,523.6 760,523.3 762.2,523 764.5,523.8 766.7,523.3 768.9,522.8 771.1,522.8 773.4,523.4 775.6,523.4 777.8,523.2 780,523 782.3,523.3 784.5,523.3 786.7,523.9 788.9,522.9 791.2,523.8 793.4,524 795.6,523.1 797.8,524.1 800.1,523.9 802.3,524.1 804.5,523.4 806.7,523.5 809,523.5 811.2,524.3 813.4,523.8 815.6,523.6 817.9,523.7 820.1,523.5 822.3,523.2 824.5,523.3 826.8,524.2 829,523.6 831.2,524.4 833.4,523.6 835.7,523.6 837.9,523.9 840.2,523.9 842.4,523.6 844.7,523.9 846.9,524.6 849.2,524.5 851.4,524.5 853.7,524.3 855.9,524.7 858.2,524.7 860.4,524.3 862.7,524.5 864.9,523.8 867.2,524.6 869.5,524.3 871.7,524.7 874,524.6 876.2,524.2 878.5,524 880.7,525.1 883,524.1 885.2,524.6 887.5,524.5 889.7,524.5 892,525 894.2,525.3 896.5,524.8 899,524.7 901.5,525.4 904,525.2 906.5,525.7 909,525.7 911.5,525.6 914,526.2 916.2,526.1 918.4,526.4 920.6,527.6 922.8,527.4 925,527.4 927.2,528.5 929.4,528.9 931.6,528.6 933.9,529.1 936.3,529.3 938.6,530 941,530.4 943.3,531.5 945.7,527.7 949.2,532.7 952.1,531.1 955,529.8 958,533.6 960.2,532.1 962.4,531.3 964.6,530.6 967.6,532.1 970.5,523.3 973.4,519.8 977.8,517.5 980.8,516.9 981.6,529.2 985.1,535 988,533.3 991,532.1 993.9,529.2 997.5,521.9 1001.3,526.2 1004.2,531.5 1006.6,531.4 1009,531.5 1011.3,531.2 1013.7,530.5 1016.1,530.3 1018.5,530.3 1020.8,529.9 1023.2,529.8 1025.7,529.7 1028.2,529.5 1030.7,529.9 1033.3,530.8 1035.8,529.9 1038.3,530.5 1040.8,530.6 1043.8,531.5 1046.7,532.1 1051,535 1054,523.3 1056.9,529.2 1059.8,524.8 1061.9,498.4 1064.2,495.5 1066.6,505.7 1069.2,521.9 1072.4,486.7 1074.5,497 1076.5,492.6 1078.9,502.8 1081.2,520.4 1083.3,523.3 1085.3,510.1 1087.7,505.7 1089.6,519.3 1092.8,509.7 1095.2,501.3 1097.7,492 1100.9,509.7 1102.5,525.7 1105.7,503.2 1108.9,509.7 1111.5,494.3 1114.7,500 1117.9,506.5 1121.1,522.5 1123.4,538.5 1126.6,528.9 1129.8,533.7 1132,548.2 1134.6,545 1137.8,503.2 1141,525.7 1143.3,545.6 1145.8,516.1 1148.4,509.7 1150.6,500 1153.9,508 1157.1,492 1160.3,490.4 1163.5,493.6 1166.7,496.8 1169.9,489.8 1173.1,500 1175.7,496.8 1177.9,514.5 1180.2,493 1184.4,495.2 1186.8,496.5 1189.2,498.4 1191.7,500.5 1194.2,503.2 1197,506 1199.8,500.4 1204,496.2 1208.1,499 1212.3,499 1216.5,500.4 1220.7,499 1222.9,501.8 1224.9,522.7 1226.8,510.2 1229,521.3 1231.8,507.4 1234.6,510.2 1238.8,506 1243,508.8 1247.2,503.2 1250,504.6 1252.8,501.8 1254.5,505.1" fill="none" stroke="rgba(255,0,0,0.62)" stroke-width="1.25" stroke-linejoin="round"/>
<path d="M77.85 446.5H1254.4" stroke="#b4a35a" stroke-width="1"/><path d="M77.85 447.5H1254.4" stroke="#f09a7c" stroke-width="1"/>
<polyline points="77,441.9 79.2,441.6 81.5,441.8 83.7,441.8 85.9,442.3 88.1,442.2 90.4,442.2 92.6,441.3 94.8,441.3 97,442 99.3,442.2 101.5,441.7 103.7,441.8 105.9,441.2 108.2,441.6 110.4,442.2 112.6,442.1 114.8,442.1 117.1,442.2 119.3,441.4 121.5,441.2 123.7,441.2 126,441.6 128.2,441.8 130.4,442.1 132.6,441.8 134.9,441.7 137.1,441.8 139.3,441.5 141.5,441.6 143.8,441 146,441.5 148.2,441.8 150.5,441.2 152.7,442 154.9,441.7 157.1,441.3 159.4,441.1 161.6,441.2 163.8,441.7 166,441.7 168.3,441.1 170.5,441.1 172.7,441.6 174.9,441.6 177.2,441.4 179.4,441.2 181.6,441.7 183.8,441 186.1,441.3 188.3,441.5 190.5,442.1 192.7,441.7 195,442 197.2,441.5 199.4,441.3 201.6,441.3 203.9,442.1 206.1,441.8 208.3,441.4 210.5,441.1 212.8,441.6 215,441.6 217.4,441.8 219.9,441.5 222.3,441.3 224.7,441.7 227.1,442 229.6,441.2 232,441.5 234,439.3 236.4,438.7 238.7,439 241.1,439 243.5,439.3 245.8,438.7 248.2,439.3 250.5,439.2 252.9,438.9 255.3,438.5 257.6,439.3 260,438.7 262.2,438.5 264.5,439.1 266.8,438.5 269,438.5 271.2,439.2 273.5,438.7 275.8,439.5 278,439 280,440.5 282,438.5 284.3,438.5 286.6,438.2 288.9,438.3 291.1,438.5 293.4,438.8 295.7,439.2 298,438.3 300.3,438.6 302.6,438.4 304.9,439.3 307.1,438.4 309.4,438.3 311.7,438.4 314,438.8 316.3,439.4 318.6,439.4 320.9,439.2 323.1,439.6 325.4,439.5 327.7,438.9 330,439.1 332.2,438.7 334.5,439.5 336.7,439.3 339,438.4 341.2,439.1 343.4,438.8 345.7,438.7 347.9,438.6 350.2,438.4 352.4,438.2 354.6,438.5 356.9,438.5 359.1,439.1 361.3,438.2 363.6,439.1 365.8,438.2 368.1,438.4 370.3,438.8 372.5,438.8 374.8,438.3 377,437.9 379.3,438.3 381.5,438.3 383.8,426 386,437.8 389.4,426.6 392.3,437.8 395.4,430.9 398.5,424.3 400.5,437 401.4,439.2 403.7,439.7 405.9,438.9 408.2,439.1 410.4,439.6 412.7,438.7 414.9,439.1 417.2,439.5 419.4,439.5 421.7,438.7 423.9,438.7 426.2,438.7 428.4,439.7 430.7,439.2 432,441.6 434.2,441.3 436.5,441.9 438.8,442 441,441.4 443.2,441.3 445.5,442.1 447.8,441.7 450,441.3 452.2,441.8 454.5,441.4 456.8,441.4 459,441.1 461.2,441.9 463.5,442.1 465.8,441.7 468,442.1 470.2,441.1 472.5,441.3 474.8,441.6 477,442.1 479.2,442.1 481.5,441.5 483.8,441.3 486,441.5 488.2,441.6 490.5,442.1 492.8,441.3 495,441.9 497.2,441.9 499.5,442 501.8,441.9 504,441.7 506.2,441.4 508.5,441.4 510.8,441.4 513,441.6 515.2,436.9 517,441.3 521,440 523.4,442.8 526.4,441.9 529.3,442.8 531.3,430.2 533,435.4 534.6,431 535.7,434 537.5,439.8 539.5,436.9 541.6,435.4 543.9,440.7 546.3,438.4 548.3,442.8 550.4,439 552.7,444.8 555.7,441.3 558,445.7 560,440.7 562.1,444.8 564.4,439 566.8,444.8 568.8,441.3 571.8,445.7 574.7,440.7 577.6,444.2 580.5,439.8 582.9,438.4 585.5,445.7 587.3,429.6 589.3,431 590.8,440.7 593.7,441.3 596.1,441.7 598.4,441 600.8,441.1 603.1,441.8 605.5,441.3 607.8,441.2 610.2,441.2 612.5,441.8 614.9,441.6 617.2,441.9 620.1,442.4 623.1,442.3 626,441.9 627.3,431 629.4,439.8 631.1,429.6 634,431 636.1,439.8 638.2,436.9 641.1,445.7 643.4,441.3 646.4,444.8 649.3,439.8 652.2,436.9 655.1,442.8 657.5,436.9 659.5,444.8 662.5,439.8 665.4,444.2 668.3,442.8 672.1,436.9 675,442.8 678,440.7 681.5,439.8 685.9,441.9 688.2,442.4 690.4,441.6 692.7,441.4 695,441.5 697.2,441.9 699.5,442.1 701.7,441.8 704,441.6 706.3,441.8 708.5,442 710.8,441.9 713.1,436.9 715.2,441.3 717.4,441.5 719.7,441.6 721.9,441.7 724.2,441.5 726.4,441 728.6,441.8 730.9,441.2 733.1,441.5 735.4,441.3 737.6,441.7 739.8,441.1 742.1,441.2 744.3,441.2 746.6,441.1 748.8,441.9 751,441.6 753.3,441.4 755.5,441.5 757.8,442.1 760,441.6 762.2,441.6 764.4,441.3 766.6,441.9 768.9,441.7 771.1,442.1 773.3,441.1 775.5,441.5 777.7,441.9 779.9,441.9 782.2,442 784.4,441 786.6,441.3 788.8,441 791,441.1 793.2,442 795.5,441.5 797.7,441.9 799.9,441.3 802.1,441.8 804.3,441.3 806.5,441.1 808.8,441.7 811,441.9 813.2,440.9 815.4,441.5 817.6,441.5 819.8,441 822,441.2 824.3,440.9 826.5,441 828.7,441 830.9,441.4 833.1,441.4 835.3,440.9 837.6,440.7 839.8,441 842,441.4 844.2,440.9 846.4,441 848.6,440.9 850.9,441.5 853.1,441.2 855.3,440.7 857.5,440.7 859.7,441 861.9,441.2 864.1,441.3 866.4,440.7 868.6,440.7 870.8,441.3 873,441 875.2,440.8 877.4,440.8 879.7,441.5 881.9,440.8 884.1,441.1 886.3,440.9 888.5,440.9 890.7,441.4 893,441.5 895.2,440.8 897.4,440.6 899.6,441.2 901.8,440.6 904,440.4 906.2,441.4 908.5,440.8 910.7,441.3 912.9,440.8 915.1,441.3 917.3,440.8 919.5,440.5 921.8,440.3 924,440.9 926.2,441 928.4,441.3 930.6,440.4 932.8,440.9 935.1,440.6 937.3,440.8 939.5,440.4 941.7,440.5 943.9,440.8 946.1,441.2 948.4,440.3 950.6,440.7 952.8,441 955,440.7 957.3,441.2 959.6,440.4 961.9,440.3 964.2,441.2 966.5,441.2 968.8,440.7 971.1,440.2 973.4,440.7 975.8,437.8 977.8,444.8 980.8,440.7 983.2,441.2 985.5,440.7 987.9,441.4 990.3,441.1 992.7,441.4 995,440.8 997.4,441.5 999.8,441.3 1001.3,444.2 1004.2,439.8 1006.5,439.5 1008.8,439.8 1011.1,440.3 1013.4,440.3 1015.7,439.6 1018,439.7 1020.3,439.9 1022.6,440 1024.9,439.9 1027.2,439.7 1029.5,439.8 1031.8,440.4 1034.1,440.6 1036.4,439.7 1038.7,440.3 1041,440.5 1043.3,439.8 1045.6,440.7 1047.9,439.9 1050.2,440.5 1052.5,440.4 1054.9,436.9 1056.9,441.9 1059.8,442.8 1061.9,423.1 1065.7,423.1 1068.6,424.3 1071.6,423.7 1074.5,424.1 1077.4,424.3 1078.9,424.3 1080.3,442.8 1083.3,438.4 1085.3,435.4 1087.7,441.3 1090,444.8 1091.2,444.9 1094.5,440.7 1097.7,442.3 1100.9,439.1 1104.1,434.3 1106.3,440.7 1108.3,435.9 1110.5,443.9 1113.7,439.1 1116.9,444.9 1120.1,440.7 1123.4,442.3 1126.6,435.9 1129.8,445.5 1133,439.1 1135.4,439.2 1137.8,439.1 1141,438.1 1144.2,437.5 1147.4,435.9 1149.8,438.2 1152.3,440.7 1154.5,440.8 1156.8,440.6 1159,440.9 1161.3,440.6 1163.5,440.7 1166.1,440.8 1168.6,440.5 1171.2,441.4 1173.7,441.4 1176.3,441.6 1178.6,441.3 1180.9,441.8 1183.2,441.8 1185.5,441.4 1187.8,441 1190.1,441.3 1192.4,440.8 1194.7,440.8 1197,441.1 1199.3,440.7 1201.6,441 1203.9,441 1206.2,440.5 1208.5,441.1 1210.8,440.4 1213.1,441.1 1215.4,441.1 1217.7,440.8 1220,440.7 1223,440.4 1226,441 1227.5,437.6 1229.8,437.8 1232,438 1236,441 1238.3,440.9 1240.6,441.5 1242.9,440.6 1245.2,441.4 1247.6,441.5 1249.9,441.3 1252.2,441.3 1254.5,441" fill="none" stroke="rgba(0,0,0,0.75)" stroke-width="2" stroke-linejoin="round"/>
<path d="M78.35 311H1254.4" stroke="#f6a33a" stroke-width="2.2" stroke-dasharray="10 5"/>
<rect x="324.0" y="289" width="40" height="12" fill="rgba(255,0,0,0.3)" stroke="rgba(255,0,0,0.6)" stroke-width="1.5"/>
<rect x="404.4" y="289" width="40" height="12" fill="#cccccc" stroke="#333333" stroke-width="2.5"/>
<rect x="541.2" y="289" width="40" height="12" fill="rgba(0,0,255,0.1)" stroke="rgba(0,0,255,0.1)" stroke-width="1.5"/>
<rect x="638.2" y="289" width="40" height="12" fill="rgba(0,255,0,0.3)" stroke="rgba(0,230,0,0.55)" stroke-width="1.5"/>
<rect x="736.7" y="289" width="40" height="12" fill="rgba(190,255,0,0.3)" stroke="rgba(255,165,0,0.45)" stroke-width="1.5"/>
<rect x="865.7" y="289" width="40" height="12" fill="rgba(190,255,0,0.3)" stroke="#f6a33a" stroke-width="2.2" stroke-dasharray="10 5"/>
<g font-family="Liberation Sans, Arial, sans-serif" font-size="12" fill="#999"><text x="66" y="311.0" text-anchor="end" dominant-baseline="central">16</text><text x="66" y="344.9" text-anchor="end" dominant-baseline="central">12</text><text x="66" y="378.8" text-anchor="end" dominant-baseline="central">8</text><text x="66" y="412.6" text-anchor="end" dominant-baseline="central">4</text><text x="66" y="446.5" text-anchor="end" dominant-baseline="central">0</text><text x="66" y="480.4" text-anchor="end" dominant-baseline="central">-4</text><text x="66" y="514.2" text-anchor="end" dominant-baseline="central">-8</text><text x="66" y="548.1" text-anchor="end" dominant-baseline="central">-12</text><text x="66" y="582.0" text-anchor="end" dominant-baseline="central">-16</text><text x="1266" y="311.0" dominant-baseline="central">100</text><text x="1266" y="338.1" dominant-baseline="central">90</text><text x="1266" y="365.2" dominant-baseline="central">80</text><text x="1266" y="392.3" dominant-baseline="central">70</text><text x="1266" y="419.4" dominant-baseline="central">60</text><text x="1266" y="446.5" dominant-baseline="central">50</text><text x="1266" y="473.6" dominant-baseline="central">40</text><text x="1266" y="500.7" dominant-baseline="central">30</text><text x="1266" y="527.8" dominant-baseline="central">20</text><text x="1266" y="554.9" dominant-baseline="central">10</text><text x="1266" y="582.0" dominant-baseline="central">0</text><text transform="translate(73.8,608.5) rotate(-46.5)" text-anchor="middle" dominant-baseline="central">11:44</text><text transform="translate(142.7,608.5) rotate(-46.5)" text-anchor="middle" dominant-baseline="central">11:51</text><text transform="translate(211.5,608.5) rotate(-46.5)" text-anchor="middle" dominant-baseline="central">11:58</text><text transform="translate(280.3,608.5) rotate(-46.5)" text-anchor="middle" dominant-baseline="central">12:05</text><text transform="translate(349.1,608.5) rotate(-46.5)" text-anchor="middle" dominant-baseline="central">12:12</text><text transform="translate(417.9,608.5) rotate(-46.5)" text-anchor="middle" dominant-baseline="central">12:19</text><text transform="translate(486.8,608.5) rotate(-46.5)" text-anchor="middle" dominant-baseline="central">12:26</text><text transform="translate(555.6,608.5) rotate(-46.5)" text-anchor="middle" dominant-baseline="central">12:33</text><text transform="translate(624.4,608.5) rotate(-46.5)" text-anchor="middle" dominant-baseline="central">12:40</text><text transform="translate(693.2,608.5) rotate(-46.5)" text-anchor="middle" dominant-baseline="central">12:47</text><text transform="translate(762.0,608.5) rotate(-46.5)" text-anchor="middle" dominant-baseline="central">12:54</text><text transform="translate(830.9,608.5) rotate(-46.5)" text-anchor="middle" dominant-baseline="central">13:01</text><text transform="translate(899.7,608.5) rotate(-46.5)" text-anchor="middle" dominant-baseline="central">13:08</text><text transform="translate(968.5,608.5) rotate(-46.5)" text-anchor="middle" dominant-baseline="central">13:15</text><text transform="translate(1037.3,608.5) rotate(-46.5)" text-anchor="middle" dominant-baseline="central">13:22</text><text transform="translate(1106.1,608.5) rotate(-46.5)" text-anchor="middle" dominant-baseline="central">13:29</text><text transform="translate(1175.0,608.5) rotate(-46.5)" text-anchor="middle" dominant-baseline="central">13:36</text><text transform="translate(1243.8,608.5) rotate(-46.5)" text-anchor="middle" dominant-baseline="central">13:43</text><text transform="translate(34.6,446.8) rotate(-90)" text-anchor="middle" dominant-baseline="central">Leistung [kW]</text><text transform="translate(1301,447) rotate(90)" text-anchor="middle" dominant-baseline="central">SoC [%]</text><text x="369.6" y="294.3" dominant-baseline="central">EVU</text><text x="450.0" y="294.3" dominant-baseline="central">Hausverbrauch</text><text x="586.8" y="294.3" dominant-baseline="central">LP ges.</text><text x="683.8" y="294.3" dominant-baseline="central">PV ges.</text><text x="782.3" y="294.3" dominant-baseline="central">Speicher ges.</text><text x="911.3" y="294.3" dominant-baseline="central">Speicher ges. SoC</text></g>
</svg>

<div class="tbl">
 <div style="left:10px;top:3.5px">Ladepunkt</div>
 <div style="left:334px;top:3.5px">Lademodus</div>
 <div style="left:334px;top:27.5px">Fahrzeug</div>
 <div style="left:658px;top:3.5px">Parameter</div>
 <div style="left:658px;top:27.5px">SoC</div>
 <div style="left:982px;top:3.5px">geladen</div>
</div>
</body></html>
